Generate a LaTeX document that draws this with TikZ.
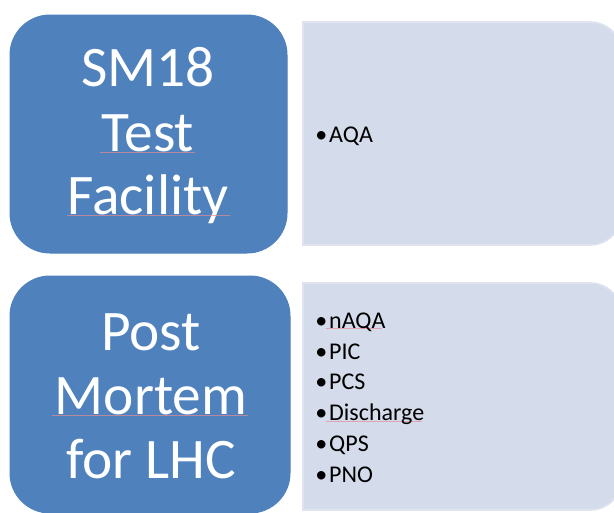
\documentclass[tikz,border=0pt]{standalone}
\usepackage{fontspec}
\setmainfont{Carlito}
\definecolor{boxblue}{RGB}{79,129,189}
\definecolor{panelfill}{RGB}{212,219,234}
\definecolor{paneledge}{RGB}{222,227,239}
\definecolor{spellred}{RGB}{230,140,150}
\tikzset{
  bluebox/.style={fill=boxblue, draw=boxblue, line width=0.75pt},
  panel/.style={fill=panelfill, draw=paneledge, line width=1.2pt},
  bigtext/.style={text=white, inner sep=0pt, anchor=base, font=\fontsize{43}{52}\selectfont},
  item/.style={text=black, inner sep=0pt, anchor=base west, font=\fontsize{18}{23}\selectfont},
  squiggle/.style={draw=spellred, line width=0.3pt, opacity=0.7}
}
\newcommand{\bul}{•\hspace{1.5pt}}
\begin{document}
\begin{tikzpicture}[x=0.75pt,y=-0.75pt]
\useasboundingbox (0,0) rectangle (614,512);
% left boxes
\draw[bluebox, rounded corners=30pt] (10,15) rectangle (287,253);
\draw[bluebox, rounded corners=30pt] (10,276) rectangle (290,513);
% right panels (rounded only on the right)
\draw[panel] (303,245) -- (303,22) -- (590,22) arc[start angle=-90, end angle=0, radius=32]
  -- (622,213) arc[start angle=0, end angle=90, radius=32] -- cycle;
\draw[panel] (303,510) -- (303,283) -- (590,283) arc[start angle=-90, end angle=0, radius=32]
  -- (622,478) arc[start angle=0, end angle=90, radius=32] -- cycle;
% big texts
\node[bigtext] (t1) at (148,86) {SM18};
\node[bigtext] (t2) at (148,151) {Test};
\node[bigtext] (t3) at (148,214) {Facility};
\node[bigtext] (p1) at (151,350) {Post};
\node[bigtext] (p2) at (151,414) {Mortem};
\node[bigtext] (p3) at (151,478) {for LHC};
% spell-check underlines
\draw[squiggle] (100,152.5) -- (195,152.5);
\draw[squiggle] (67,215.5) -- (230,215.5);
\draw[squiggle] (52,415.5) -- (248,415.5);
\draw[squiggle] (326,328.5) -- (382,328.5);
\draw[squiggle] (326,421.5) -- (422,421.5);
% items
\node[item] (a1) at (315,142) {\bul AQA};
\node[item] (b1) at (315,328) {\bul nAQA};
\node[item] (b2) at (315,359) {\bul PIC};
\node[item] (b3) at (315,389) {\bul PCS};
\node[item] (b4) at (315,420) {\bul Discharge};
\node[item] (b5) at (315,451) {\bul QPS};
\node[item] (b6) at (315,482) {\bul PNO};
\end{tikzpicture}
\end{document}
